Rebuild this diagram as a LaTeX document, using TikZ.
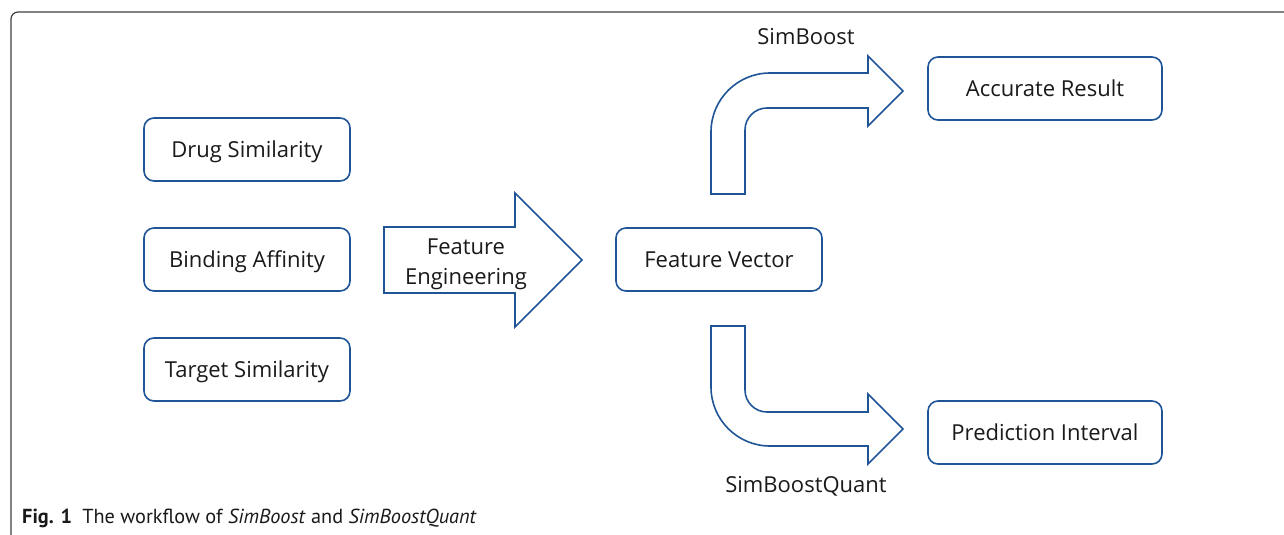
\documentclass[tikz,border=0pt]{standalone}
\usepackage{fontspec}
\setmainfont{Open Sans}
\newfontfamily\capfont{PT Sans}
\definecolor{flowblue}{HTML}{1F5597}
\definecolor{txt}{HTML}{1A1A1A}
\definecolor{framegray}{HTML}{404040}
\begin{document}
\begin{tikzpicture}[x=1pt,y=-1pt,
  box/.style={draw=flowblue,line width=1.6pt,rounded corners=10pt,fill=white,
    minimum width=206pt,minimum height=63pt,inner sep=0pt,text=txt,
    font=\fontsize{22}{26}\selectfont,text height=15.7pt,text depth=0pt},
  widebox/.style={box,minimum width=234pt},
  blockarrow/.style={draw=flowblue,line width=1.6pt,line join=miter,fill=white},
  lbl/.style={text=txt,font=\fontsize{22}{26}\selectfont,inner sep=0pt,text height=15.7pt,text depth=0pt},
  framestyle/.style={draw=framegray,line width=1.2pt}]
\useasboundingbox (0,0) rectangle (1284,535);
% frame
\draw[framestyle] (11,535) -- (11,19) .. controls (11,15.1) and (14.1,12) .. (18,12) -- (1284,12);
% input boxes
\node[box] (drug) at (247,149.5) {Drug Similarity};
\node[box] (bind) at (247,259.5) {Binding Affinity};
\node[box] (target) at (247,369.5) {Target Similarity};
% feature engineering arrow
\draw[blockarrow] (384,227) -- (515,227) -- (515,193) -- (582,260) -- (515,327) -- (515,293) -- (384,293) -- cycle;
\node[text=txt,inner sep=0pt,align=center,font=\fontsize{22}{30}\selectfont,anchor=base] (fe) at (466,284) {Feature\\Engineering};
% feature vector
\node[box] (fv) at (719,259.5) {Feature Vector};
% upper bent arrow
\draw[blockarrow] (711,194) -- (711,132) .. controls (711,99.4) and (737.4,73) .. (770,73)
  -- (868,73) -- (868,56) -- (903,91) -- (868,126) -- (868,108) -- (767,108)
  .. controls (754.8,108) and (745,117.8) .. (745,130) -- (745,194) -- cycle;
\node[lbl] (sb) at (806,36.5) {SimBoost};
% lower bent arrow
\draw[blockarrow] (711,326) -- (711,387) .. controls (711,419.6) and (737.4,446) .. (770,446)
  -- (868,446) -- (868,464) -- (903,429) -- (868,394) -- (868,412) -- (767,412)
  .. controls (754.8,412) and (745,402.2) .. (745,390) -- (745,326) -- cycle;
\node[lbl] (sbq) at (806,484.5) {SimBoostQuant};
% outputs
\node[widebox] (acc) at (1045,88.5) {Accurate Result};
\node[widebox] (pred) at (1045,432.5) {Prediction Interval};
% caption
\node[anchor=west,inner sep=0pt,text=txt,font=\capfont\fontsize{20.3}{24}\selectfont] (cap) at (22,518.5)
  {\textbf{Fig. 1}\hspace{0.5em}The workflow of \textit{SimBoost} and \textit{SimBoostQuant}};
\end{tikzpicture}
\end{document}
